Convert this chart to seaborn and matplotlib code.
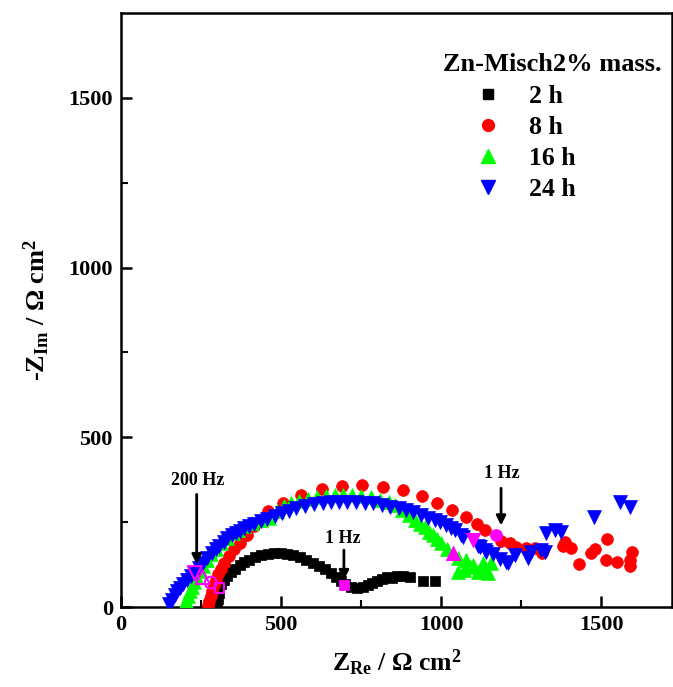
import matplotlib
matplotlib.use("Agg")
import matplotlib.pyplot as plt
import seaborn as sns
import pandas as pd
from matplotlib.lines import Line2D

sns.set_theme(style="ticks")
plt.rcParams['font.family'] = ['Liberation Serif', 'DejaVu Serif']
plt.rcParams['font.weight'] = 'bold'
plt.rcParams['mathtext.fontset'] = 'custom'
plt.rcParams['mathtext.rm'] = 'Liberation Serif:bold'
plt.rcParams['mathtext.it'] = 'Liberation Serif:bold'
plt.rcParams['mathtext.bf'] = 'Liberation Serif:bold'
for k in ['text.color', 'axes.labelcolor', 'xtick.color', 'ytick.color', 'axes.edgecolor']:
    plt.rcParams[k] = 'black'

# ---- data (Z_Re, -Z_Im) in ohm cm^2 ----
h2_x = [300, 301, 302, 305, 307, 312, 320, 330, 342, 355, 370, 385, 401, 418, 438, 458, 478, 498,
        518, 538, 558, 578, 598, 618, 638, 655, 672, 688, 700, 718, 736, 755, 770, 783, 800, 815,
        830, 845, 862, 880, 904, 944, 981]
h2_y = [0, 12, 25, 40, 56, 68, 80, 92, 103, 113, 123, 132, 140, 147, 153, 157, 159, 159,
        157, 153, 147, 140, 131, 121, 111, 100, 88, 77, 67, 59, 55, 58, 64, 71, 78, 83,
        88, 86, 92, 90, 88, 76, 76]

h8_x = [272, 276, 280, 284, 289, 295, 302, 311, 322, 336, 352, 370, 392, 416, 460, 506, 562, 627,
        690, 752, 817, 882, 941, 988, 1034, 1078, 1112, 1137, 1187, 1215, 1233, 1264, 1292, 1317,
        1314, 1379, 1388, 1407, 1432, 1469, 1481, 1519, 1516, 1550, 1596, 1590, 1590]
h8_y = [5, 18, 32, 48, 64, 80, 96, 113, 131, 150, 170, 190, 212, 240, 282, 306, 329, 347,
        356, 359, 353, 344, 326, 306, 285, 265, 244, 226, 194, 188, 176, 173, 173, 168,
        160, 179, 191, 173, 126, 159, 171, 200, 138, 132, 162, 138, 121]

h16_x = [200, 204, 209, 214, 220, 227, 235, 245, 256, 268, 282, 297, 313, 330, 348, 366, 385, 410,
         436, 463, 487, 509, 532, 556, 584, 612, 640, 668, 694, 721, 750, 780, 808, 836, 856, 876,
         898, 919, 935, 950, 963, 975, 988, 1000, 1018, 1053, 1053, 1078, 1090, 1100, 1115, 1125,
         1137, 1146, 1155, 1070, 1130]
h16_y = [5, 18, 32, 46, 60, 75, 90, 106, 122, 138, 155, 172, 188, 203, 218, 228, 240, 248,
         255, 262, 282, 297, 305, 312, 318, 324, 327, 329, 330, 329, 326, 323, 316, 309, 300, 287,
         270, 256, 245, 235, 222, 212, 200, 188, 172, 144, 103, 138, 118, 124, 103, 110,
         115, 100, 129, 110, 130]

h24_x = [150, 158, 168, 176, 183, 193, 205, 217, 230, 242, 255, 268, 283, 295, 307, 320, 332, 346,
         360, 372, 385, 400, 416, 436, 457, 480, 503, 525, 547, 575, 603, 630, 655, 680, 705, 733,
         761, 788, 814, 840, 867, 890, 913, 937, 960, 980, 997, 1015, 1031, 1044, 1062, 1068, 1115,
         1121, 1137, 1140, 1162, 1184, 1202, 1208, 1230, 1270, 1280, 1311, 1323, 1326, 1354, 1373,
         1478, 1559, 1590]
h24_y = [10, 22, 35, 46, 56, 68, 79, 90, 100, 115, 129, 144, 159, 170, 179, 192, 203, 211,
         218, 225, 232, 240, 245, 252, 259, 268, 276, 284, 291, 298, 303, 307, 309, 310, 309, 308,
         306, 305, 302, 296, 291, 285, 279, 270, 262, 255, 250, 241, 232, 226, 212, 206, 179,
         176, 168, 162, 156, 141, 132, 129, 153, 145, 162, 168, 162, 218, 226, 221,
         265, 309, 294]

# marked frequencies (magenta)
f200_x = [307, 280, 255, 230]
f200_y = [56, 72, 88, 100]
f1_x = [696, 1171, 1037, 1100]
f1_y = [65, 212, 159, 197]

series = ["2 h", "8 h", "16 h", "24 h"]
legend_title = "Zn-Misch2% mass."
colors = ["black", "red", "#00ff00", "blue"]
markers = ["s", "o", "^", "v"]
sizes = [48, 72, 100, 100]
xs = [h2_x, h8_x, h16_x, h24_x]
ys = [h2_y, h8_y, h16_y, h24_y]

fig = plt.figure(figsize=(6.73, 6.87), dpi=100)
ax = fig.add_axes([0.18, 0.1164, 0.818, 0.8647])

for name, c, m, s, x, y in zip(series, colors, markers, sizes, xs, ys):
    df = pd.DataFrame({"x": x, "y": y})
    sns.scatterplot(data=df, x="x", y="y", ax=ax, color=c, marker=m, s=s,
                    edgecolor=c, linewidth=0.5, legend=False, zorder=3)

for i in range(4):
    sns.scatterplot(x=[f200_x[i]], y=[f200_y[i]], ax=ax, marker=markers[i], s=sizes[i],
                    facecolor="none", edgecolor="magenta", linewidth=1.5, legend=False, zorder=4)
    sns.scatterplot(x=[f1_x[i]], y=[f1_y[i]], ax=ax, marker=markers[i], s=sizes[i],
                    color="magenta", edgecolor="magenta", legend=False, zorder=4)

ax.set_xlim(0, 1720)
ax.set_ylim(0, 1750)
ax.set_xticks([0, 500, 1000, 1500])
ax.set_yticks([0, 500, 1000, 1500])
ax.set_xticks([250, 750, 1250], minor=True)
ax.set_yticks([250, 750, 1250], minor=True)
ax.tick_params(axis="both", which="major", direction="in", length=8, width=1.8,
               labelsize=16, top=False, right=False, pad=6)
ax.tick_params(axis="both", which="minor", direction="in", length=5, width=1.5,
               top=False, right=False)
for lab in ax.get_xticklabels() + ax.get_yticklabels():
    lab.set_fontweight("bold")
for sp in ax.spines.values():
    sp.set_linewidth(1.8)
    sp.set_visible(True)
    sp.set_color("black")

ax.set_xlabel("Z$_{\\mathrm{Re}}$ / Ω cm$^{\\mathrm{2}}$", fontsize=18.5, fontweight="bold", labelpad=9)
ax.set_ylabel("-Z$_{\\mathrm{Im}}$ / Ω cm$^{\\mathrm{2}}$", fontsize=19, fontweight="bold", labelpad=12)

arrow = dict(arrowstyle="-|>", color="black", lw=2, mutation_scale=14)
ax.annotate("", xy=(236, 118), xytext=(236, 340), arrowprops=arrow)
ax.text(239, 373, "200 Hz", ha="center", va="center", fontsize=13, fontweight="bold")
ax.annotate("", xy=(696, 71), xytext=(696, 176), arrowprops=arrow)
ax.text(693, 203, "1 Hz", ha="center", va="center", fontsize=13, fontweight="bold")
ax.annotate("", xy=(1187, 232), xytext=(1187, 358), arrowprops=arrow)
ax.text(1190, 394, "1 Hz", ha="center", va="center", fontsize=13, fontweight="bold")

# legend: title as text, entries as a legend below it
ax.text(0.783, 0.9125, legend_title, transform=ax.transAxes, ha="center", va="center",
        fontsize=19, fontweight="bold")
handles = [Line2D([], [], linestyle="none", marker=m, color=c, markersize=ms)
           for m, c, ms in zip(markers, colors, [6.5, 8.5, 10, 10])]
leg = ax.legend(handles, series, loc="upper left", bbox_to_anchor=(0.643, 0.879),
                frameon=False, fontsize=18.5, handlelength=1.0, handletextpad=1.1,
                labelspacing=0.31, borderpad=0, borderaxespad=0)
for t in leg.get_texts():
    t.set_fontweight("bold")

fig.savefig("out.png", dpi=100)
